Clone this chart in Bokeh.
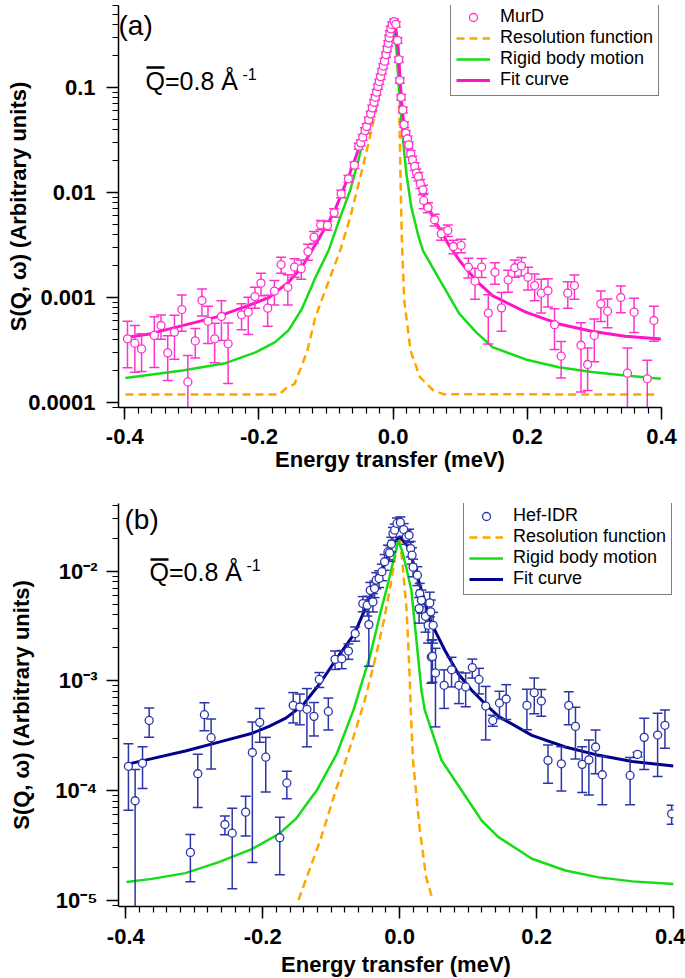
import numpy as np
from bokeh.plotting import figure
from bokeh.models import (Range1d, SingleIntervalTicker, LogTicker, CustomJSTickFormatter,
                          Legend, LegendItem, Label, BoxAnnotation)
from bokeh.layouts import column
from bokeh.embed import file_html
from bokeh.resources import INLINE

FONT = "Liberation Sans"

# ---------------- panel (a): MurD ----------------
a_energy = [
    -0.396, -0.385, -0.375, -0.356, -0.346, -0.336, -0.326, -0.315, -0.306, -0.295,
    -0.285, -0.276, -0.266, -0.256, -0.246, -0.226, -0.216, -0.206, -0.197, -0.187,
    -0.177, -0.167, -0.157, -0.147, -0.137, -0.127, -0.118, -0.108, -0.098, -0.088,
    -0.0775, -0.0667, -0.0578, -0.0513, -0.0483, -0.0454, -0.0419, -0.0395, -0.0365, -0.0335,
    -0.0311, -0.0286, -0.0267, -0.0246, -0.0227, -0.0207, -0.0187, -0.0167, -0.0148, -0.0128,
    -0.0108, -0.0089, -0.0074, -0.0059, -0.0049, -0.0034, -0.0015, 0.0015, 0.0040, 0.0065,
    0.0084, 0.0099, 0.0119, 0.0144, 0.0163, 0.0188, 0.0213, 0.0233, 0.0262, 0.0287,
    0.0321, 0.0346, 0.0376, 0.0405, 0.0444, 0.0455, 0.052, 0.0618, 0.0717, 0.0815,
    0.0899, 0.1013, 0.1121, 0.122, 0.1319, 0.1418, 0.1517, 0.1615, 0.1714, 0.1813,
    0.1911, 0.201, 0.2109, 0.2207, 0.2307, 0.2405, 0.2504, 0.2603, 0.2702, 0.28,
    0.2899, 0.2998, 0.3096, 0.3196, 0.3393, 0.3492, 0.3591, 0.3788, 0.3887]
a_intensity = [
    4.04e-4, 3.67e-4, 3.24e-4, 4.35e-4, 5.41e-4, 2.97e-4, 4.68e-4, 7.68e-4, 1.57e-4, 3.86e-4,
    9.36e-4, 5.95e-4, 4.04e-4, 6.59e-4, 3.62e-4, 6.84e-4, 7.25e-4, 1.02e-3, 1.37e-3, 7.91e-4,
    1.15e-3, 2.06e-3, 1.25e-3, 1.95e-3, 1.88e-3, 2.74e-3, 3.76e-3, 4.92e-3, 4.86e-3, 6.4e-3,
    9.7e-3, 0.0135, 0.0182, 0.0276, 0.0297, 0.0336, 0.0389, 0.0425, 0.0492, 0.0561,
    0.064, 0.0724, 0.0808, 0.0902, 0.102, 0.114, 0.127, 0.143, 0.160, 0.178,
    0.206, 0.234, 0.264, 0.297, 0.329, 0.362, 0.398, 0.425, 0.40, 0.281,
    0.184, 0.117, 0.0808, 0.0612, 0.0444, 0.0367, 0.0325, 0.0284, 0.0234, 0.0205,
    0.0177, 0.0153, 0.0142, 0.0121, 0.0106, 0.0084, 0.0072, 0.0055, 0.00405, 0.00435,
    0.00306, 3.13e-3, 1.95e-3, 1.43e-3, 1.95e-3, 7.1e-4, 1.74e-3, 7.97e-4, 1.47e-3, 1.92e-3,
    2.0e-3, 1.56e-3, 1.30e-3, 1.10e-3, 1.16e-3, 5.5e-4, 2.76e-4, 1.10e-3, 1.30e-3, 3.51e-4,
    2.3e-4, 4.35e-4, 8.7e-4, 7.41e-4, 1.0e-3, 1.9e-4, 7.25e-4, 1.68e-4, 6.04e-4]
a_error = [
    1.9e-4, 1.73e-4, 1.27e-4, 2.2e-4, 1.4e-4, 1.35e-4, 2.1e-4, 2.9e-4, 1.23e-4, 1.2e-4,
    2.7e-4, 2.3e-4, 1.65e-4, 2.7e-4, 2.1e-4, 1.9e-4, 2.8e-4, 2.3e-4, 3.3e-4, 2.6e-4,
    3.0e-4, 3.6e-4, 4.0e-4, 3.9e-4, 3.9e-4, 4.8e-4, 5.0e-4, 5.0e-4, 5.0e-4, 6.0e-4,
    8e-4, 1.0e-3, 1.3e-3, 1.8e-3, 1.9e-3, 2.1e-3, 2.4e-3, 2.6e-3, 3.0e-3, 3.4e-3,
    3.8e-3, 4.3e-3, 4.8e-3, 5.4e-3, 6.0e-3, 6.7e-3, 7.5e-3, 8.4e-3, 9.4e-3, 0.0105,
    0.012, 0.014, 0.015, 0.017, 0.019, 0.021, 0.023, 0.025, 0.023, 0.017,
    0.011, 7.0e-3, 4.8e-3, 3.7e-3, 2.7e-3, 2.3e-3, 2.1e-3, 1.9e-3, 1.7e-3, 1.6e-3,
    1.5e-3, 1.4e-3, 1.3e-3, 1.2e-3, 1.1e-3, 1.4e-3, 8e-4, 7e-4, 5.5e-4, 5.5e-4,
    4.5e-4, 4.6e-4, 4.2e-4, 4.7e-4, 4.0e-4, 3.5e-4, 4.0e-4, 3.2e-4, 3.5e-4, 3.6e-4,
    4.0e-4, 3.8e-4, 3.7e-4, 3.9e-4, 3.5e-4, 2.3e-4, 1.05e-4, 3.1e-4, 3.4e-4, 2.25e-4,
    1.0e-4, 1.9e-4, 2.8e-4, 2.25e-4, 2.85e-4, 1.4e-4, 2.6e-4, 8.5e-5, 2.2e-4]

a_res_energy = [-0.399, -0.170, -0.160, -0.147, -0.138, -0.128, -0.116, -0.0985, -0.079, -0.064,
                -0.049, -0.037, -0.027, -0.0172, -0.0123, -0.0049, 0.002, 0.0055, 0.0085, 0.0100,
                0.0115, 0.0130, 0.0165, 0.026, 0.040, 0.060, 0.075, 0.392]
a_res_value = [1.19e-4, 1.19e-4, 1.36e-4, 1.5e-4, 2.1e-4, 3.1e-4, 6.5e-4, 1.3e-3, 2.8e-3, 5.8e-3,
               0.014, 0.029, 0.056, 0.108, 0.195, 0.35, 0.38, 0.30, 0.10, 0.03,
               0.0095, 0.0035, 9.4e-4, 3.1e-4, 1.74e-4, 1.3e-4, 1.2e-4, 1.19e-4]

a_rigid_energy = [-0.399, -0.314, -0.25, -0.205, -0.176, -0.156, -0.136, -0.122, -0.117, -0.0963,
                  -0.079, -0.064, -0.0519, -0.0444, -0.0345, -0.0246, -0.0148, -0.0049, 0.0015, 0.005,
                  0.0099, 0.0148, 0.0198, 0.0272, 0.037, 0.0444, 0.067, 0.0988, 0.1235, 0.148,
                  0.1976, 0.247, 0.2963, 0.3457, 0.399]
a_rigid_value = [1.71e-4, 2.02e-4, 2.37e-4, 3.0e-4, 3.76e-4, 4.86e-4, 7.8e-4, 1.25e-3, 1.5e-3, 2.8e-3,
                 5.8e-3, 0.0105, 0.0202, 0.0313, 0.056, 0.1, 0.18, 0.29, 0.35, 0.225,
                 0.075, 0.031, 0.015, 7.2e-3, 4.0e-3, 2.8e-3, 1.56e-3, 7e-4, 4.68e-4, 3.37e-4,
                 2.57e-4, 2.17e-4, 1.95e-4, 1.81e-4, 1.68e-4]

a_fit_energy = [-0.399, -0.363, -0.314, -0.264, -0.215, -0.185, -0.156, -0.136, -0.1185, -0.0889,
                -0.064, -0.0395, -0.0197, -0.0074, 0.0, 0.0035, 0.0074, 0.0124, 0.0173, 0.0247,
                0.0395, 0.0593, 0.084, 0.0988, 0.1235, 0.148, 0.1976, 0.247, 0.296, 0.3457, 0.399]
a_fit_value = [4.15e-4, 4.5e-4, 5.4e-4, 6.5e-4, 8.4e-4, 1.0e-3, 1.4e-3, 1.95e-3, 3.0e-3, 6.3e-3,
               0.0156, 0.042, 0.117, 0.26, 0.37, 0.38, 0.242, 0.075, 0.036, 0.0217,
               0.0113, 5.8e-3, 3.1e-3, 2.25e-3, 1.45e-3, 1.04e-3, 7.25e-4, 5.6e-4, 4.77e-4, 4.28e-4, 4.02e-4]

# ---------------- panel (b): Hef-IDR ----------------
b_energy = [
    -0.3962, -0.3864, -0.3756, -0.3659, -0.3057, -0.2949, -0.2852, -0.2754, -0.2553, -0.2446,
    -0.225, -0.2152, -0.2044, -0.1956, -0.1751, -0.1648, -0.1555, -0.1458, -0.1355, -0.1252,
    -0.1174, -0.1042, -0.0944, -0.0846, -0.0748, -0.065, -0.0538, -0.0474, -0.045, -0.043,
    -0.0391, -0.0367, -0.0342, -0.0300, -0.0259, -0.022, -0.0171, -0.0147, -0.0122, -0.0098,
    -0.0073, -0.0039, 0.001, 0.0059, 0.0098, 0.0137, 0.0161, 0.0181, 0.0196, 0.0259,
    0.0284, 0.0293, 0.0318, 0.0377, 0.0416, 0.044, 0.0455, 0.0462, 0.0479, 0.0489,
    0.0523, 0.065, 0.0758, 0.0866, 0.0964, 0.1061, 0.1159, 0.1257, 0.136, 0.1458,
    0.1556, 0.1859, 0.1966, 0.2069, 0.2167, 0.2362, 0.247, 0.2568, 0.2666, 0.2764,
    0.2862, 0.296, 0.3366, 0.3474, 0.3572, 0.3768, 0.3875, 0.3973]
b_intensity = [
    1.66e-4, 8.05e-5, 1.77e-4, 4.35e-4, 2.72e-5, 1.42e-4, 4.91e-4, 3.03e-4, 4.89e-5, 4.07e-5,
    6.34e-5, 2.22e-4, 4.18e-4, 2.01e-4, 3.7e-5, 1.17e-4, 5.97e-4, 5.77e-4, 5.5e-4, 4.74e-4,
    1.03e-3, 5.26e-4, 1.57e-3, 1.59e-3, 1.87e-3, 2.7e-3, 5.07e-3, 4.9e-3, 3.26e-3, 6.7e-3,
    5.25e-3, 6.95e-3, 8.3e-3, 8.6e-3, 9.9e-3, 0.0122, 0.0150, 0.0147, 0.0177, 0.0221,
    0.0237, 0.0273, 0.0279, 0.024, 0.0206, 0.0213, 0.0161, 0.014, 0.0109, 9.2e-3,
    4.56e-3, 6.25e-3, 5.43e-3, 3.88e-3, 3.21e-3, 5.14e-3, 4.26e-3, 1.65e-3, 1.67e-3, 3.21e-3,
    1.18e-3, 9.1e-4, 1.26e-3, 9.1e-4, 8.8e-4, 1.32e-3, 1.03e-3, 5.89e-4, 4.35e-4, 6.27e-4,
    6.83e-4, 5.97e-4, 7.8e-4, 6.55e-4, 1.88e-4, 1.75e-4, 5.97e-4, 3.84e-4, 1.73e-4, 1.9e-4,
    2.49e-4, 1.39e-4, 1.37e-4, 2.13e-4, 3.05e-4, 3.2e-4, 3.93e-4, 6.12e-5]
b_error = [
    1.0e-4, 7.5e-5, 7.3e-5, 1.3e-4, 1.25e-5, 7.2e-5, 1.4e-4, 1.46e-4, 9.5e-6, 2.8e-5,
    2.5e-5, 2.0e-4, 1.43e-4, 1.04e-4, 2.0e-5, 3.3e-5, 1.84e-4, 1.8e-4, 3.0e-4, 1.6e-4,
    1.6e-4, 1.7e-4, 3.0e-4, 3.0e-4, 3.0e-4, 4.0e-4, 8e-4, 1.0e-3, 1.9e-3, 1.2e-3,
    1.0e-3, 1.2e-3, 1.4e-3, 1.5e-3, 1.7e-3, 2.0e-3, 2.3e-3, 2.4e-3, 2.7e-3, 3.0e-3,
    3.2e-3, 3.3e-3, 3.4e-3, 3.2e-3, 3.0e-3, 2.9e-3, 2.6e-3, 2.4e-3, 2.0e-3, 1.8e-3,
    1.2e-3, 1.5e-3, 1.3e-3, 1.1e-3, 1.0e-3, 1.3e-3, 1.2e-3, 7e-4, 7e-4, 1.0e-3,
    8.0e-4, 3.5e-4, 3.8e-4, 2.9e-4, 3.0e-4, 2.6e-4, 2.7e-4, 3.0e-4, 5.0e-5, 1.76e-4,
    2.4e-4, 2.4e-4, 2.8e-4, 1.8e-4, 7.2e-5, 7.6e-5, 2.0e-4, 1.9e-4, 7.7e-5, 9.9e-5,
    1.07e-4, 6.5e-5, 6.3e-5, 1.0e-5, 1.5e-4, 1.86e-4, 1.5e-4, 1.2e-5]

b_res_energy = [-0.1478, -0.1161, -0.0918, -0.0675, -0.0514, -0.0367, -0.022, -0.0112, -0.0034, 0.0,
                0.004, 0.0098, 0.0122, 0.0147, 0.0161, 0.0195, 0.029, 0.0387, 0.0484]
b_res_value = [1.0e-5, 3.5e-5, 1.07e-4, 3.07e-4, 6.5e-4, 1.5e-3, 3.8e-3, 8.9e-3, 0.0179, 0.02,
               0.012, 4.7e-3, 2.35e-3, 1.08e-3, 5.5e-4, 1.88e-4, 4.6e-5, 1.6e-5, 1.0e-5]

b_rigid_energy = [-0.399, -0.3619, -0.313, -0.2641, -0.2152, -0.1761, -0.1516, -0.1321, -0.1211, -0.0918,
                  -0.0675, -0.0431, -0.0269, -0.0188, -0.0073, -0.002, 0.004, 0.0101, 0.0171, 0.0245,
                  0.0318, 0.0367, 0.0612, 0.0954, 0.1198, 0.1443, 0.1932, 0.242, 0.2909, 0.3399, 0.4]
b_rigid_value = [1.46e-5, 1.56e-5, 1.76e-5, 2.22e-5, 2.93e-5, 4.02e-5, 5.5e-5, 8.1e-5, 1.0e-4, 2.16e-4,
                 5.4e-4, 1.7e-3, 4.5e-3, 7e-3, 0.014, 0.019, 0.015, 0.0105, 6.7e-3, 2.34e-3,
                 8.2e-4, 5.4e-4, 1.88e-4, 9e-5, 5.3e-5, 3.75e-5, 2.38e-5, 1.86e-5, 1.61e-5, 1.48e-5, 1.4e-5]

b_fit_energy = [-0.399, -0.3619, -0.313, -0.2641, -0.2152, -0.1907, -0.1663, -0.1418, -0.1174, -0.0905,
                -0.066, -0.0513, -0.0367, -0.022, -0.0098, 0.0, 0.0122, 0.022, 0.0318, 0.0465,
                0.066, 0.0856, 0.1052, 0.1272, 0.1443, 0.1932, 0.242, 0.2909, 0.3399, 0.4]
b_fit_value = [1.73e-4, 1.95e-4, 2.29e-4, 2.76e-4, 3.33e-4, 3.84e-4, 4.57e-4, 5.97e-4, 9.3e-4, 1.65e-3,
               2.7e-3, 4.4e-3, 7.2e-3, 0.0117, 0.0179, 0.0206, 0.0168, 0.0109, 6.7e-3, 3.33e-3,
               1.9e-3, 1.16e-3, 8.2e-4, 5.97e-4, 4.74e-4, 3.18e-4, 2.49e-4, 2.09e-4, 1.84e-4, 1.67e-4]

X_TICK_JS = "return Math.abs(tick) < 1e-9 ? '0.0' : tick.toFixed(1);"
Y_DEC_JS = """
const e = Math.round(Math.log10(tick));
return e >= 0 ? String(Math.pow(10, e)) : '0.' + '0'.repeat(-e - 1) + '1';
"""
Y_POW_JS = """
const e = Math.round(Math.log10(tick));
const sup = {'-': '\u207b', '0': '\u2070', '1': '\u00b9', '2': '\u00b2', '3': '\u00b3',
             '4': '\u2074', '5': '\u2075', '6': '\u2076', '7': '\u2077', '8': '\u2078', '9': '\u2079'};
return '10' + String(e).split('').map(c => sup[c]).join('');
"""

ORANGE = "#FFA500"
GREEN = "#15DD15"


def build(cfg):
    p = figure(frame_width=cfg["fw"], frame_height=cfg["fh"],
               x_range=Range1d(*cfg["xr"]), y_range=Range1d(*cfg["yr"]),
               y_axis_type="log", output_backend="svg", toolbar_location=None,
               min_border_left=cfg["bl"], min_border_top=cfg["bt"],
               min_border_right=cfg["br"], min_border_bottom=cfg["bb"], title=None)
    p.outline_line_color = None
    p.xgrid.visible = False
    p.ygrid.visible = False
    for ax in (p.xaxis[0], p.yaxis[0]):
        ax.axis_line_width = 1.5
        ax.major_tick_line_width = 1.5
        ax.minor_tick_line_width = 1.2
        ax.major_tick_in = 0
        ax.major_tick_out = 12
        ax.minor_tick_in = 0
        ax.minor_tick_out = 6
        ax.major_label_text_font = FONT
        ax.major_label_text_font_style = "bold"
        ax.major_label_text_font_size = "22px"
        ax.major_label_text_color = "black"
        ax.axis_label_text_font = FONT
        ax.axis_label_text_font_style = "bold"
        ax.axis_label_text_font_size = "22px"
        ax.axis_label_text_color = "black"
    p.xaxis.ticker = SingleIntervalTicker(interval=0.2, num_minor_ticks=10)
    p.xaxis.formatter = CustomJSTickFormatter(code=X_TICK_JS)
    p.yaxis.ticker = LogTicker(mantissas=[1], num_minor_ticks=10)
    p.yaxis.formatter = CustomJSTickFormatter(code=cfg["yjs"])
    p.xaxis.axis_label = "Energy transfer (meV)"
    p.yaxis.axis_label = "S(Q, \u03c9) (Arbitrary units)"
    p.xaxis.major_label_standoff = cfg["xls"]
    p.xaxis.axis_label_standoff = cfg["xas"]
    p.yaxis.major_label_standoff = cfg["yls"]
    p.yaxis.axis_label_standoff = cfg["yas"]

    r_res = p.line(cfg["res"][0], cfg["res"][1], line_color=ORANGE, line_width=2.5, line_dash="8 5")
    r_rig = p.line(cfg["rig"][0], cfg["rig"][1], line_color=GREEN, line_width=2.5)
    r_fit = p.line(cfg["fit"][0], cfg["fit"][1], line_color=cfg["fitc"], line_width=3)

    E = np.array(cfg["E"])
    S = np.array(cfg["S"])
    err = np.array(cfg["err"])
    lower = S - err
    upper = S + err
    ok = lower > 0
    lower_draw = np.where(ok, lower, cfg["yr"][0] * 0.1)
    col = cfg["dc"]
    p.segment(x0=E, y0=lower_draw, x1=E, y1=upper, line_color=col, line_width=1.5)
    p.scatter(x=np.concatenate([E, E[ok]]), y=np.concatenate([upper, lower[ok]]),
              marker="dash", size=10, line_color=col, line_width=1.5)
    r_pts = p.scatter(E, S, marker="circle", size=8, line_color=col, fill_color="white", line_width=1.3)

    legend = Legend(items=[LegendItem(label=cfg["name"], renderers=[r_pts]),
                           LegendItem(label="Resolution function", renderers=[r_res]),
                           LegendItem(label="Rigid body motion", renderers=[r_rig]),
                           LegendItem(label="Fit curve", renderers=[r_fit])],
                    location=cfg["leg"], label_text_font=FONT, label_text_font_size="18px",
                    label_text_color="black",
                    glyph_width=34, glyph_height=20, label_height=20, label_standoff=10,
                    spacing=0, padding=5, margin=0, border_line_color="black",
                    border_line_width=1.5, background_fill_alpha=1.0)
    p.add_layout(legend)

    tx, ty = cfg["tag_xy"]
    p.add_layout(Label(x=tx, y=ty, x_units="screen", y_units="screen", text=cfg["tag"],
                       text_font=FONT, text_font_size="28px", text_color="black",
                       text_baseline="middle", text_align="left"))
    qx, qy = cfg["q_xy"]
    p.add_layout(Label(x=qx, y=qy, x_units="screen", y_units="screen", text="Q=0.8 \u00c5",
                       text_font=FONT, text_font_size="25px", text_color="black",
                       text_baseline="middle", text_align="left"))
    p.add_layout(BoxAnnotation(left=qx + 1, right=qx + 19, bottom=cfg["bar_y"] - 1.3, top=cfg["bar_y"] + 1.3,
                               left_units="screen", right_units="screen", bottom_units="screen",
                               top_units="screen", fill_color="black", fill_alpha=1.0, line_color=None))
    sx, sy = cfg["sup_xy"]
    p.add_layout(Label(x=sx, y=sy, x_units="screen", y_units="screen", text="-1",
                       text_font=FONT, text_font_size="16px", text_color="black",
                       text_baseline="middle", text_align="left"))
    return p


pa = build(dict(fw=543, fh=402, xr=(-0.4094, 0.4), yr=(8.96e-5, 0.604), bl=118, bt=5, br=24, bb=73,
                yjs=Y_DEC_JS, xls=9, xas=0, yls=11, yas=-6,
                res=(a_res_energy, a_res_value), rig=(a_rigid_energy, a_rigid_value),
                fit=(a_fit_energy, a_fit_value), fitc="#FF14C8", dc="#FF33CC",
                E=a_energy, S=a_intensity, err=a_error, name="MurD", leg=(332, 311),
                tag="(a)", tag_xy=(0, 382), q_xy=(27, 326.5), bar_y=340, sup_xy=(124, 333.5)))

pb = build(dict(fw=555, fh=403, xr=(-0.4107, 0.4), yr=(8.73e-6, 0.0415), bl=115, bt=23, br=15, bb=70,
                yjs=Y_POW_JS, xls=10, xas=5, yls=9, yas=18,
                res=(b_res_energy, b_res_value), rig=(b_rigid_energy, b_rigid_value),
                fit=(b_fit_energy, b_fit_value), fitc="#00008B", dc="#2B35A8",
                E=b_energy, S=b_intensity, err=b_error, name="Hef-IDR", leg=(345, 311),
                tag="(b)", tag_xy=(6, 387), q_xy=(31, 334.3), bar_y=347, sup_xy=(128, 342)))

layout = column(pa, pb, spacing=0)
open("out.html", "w").write(file_html(layout, INLINE))
